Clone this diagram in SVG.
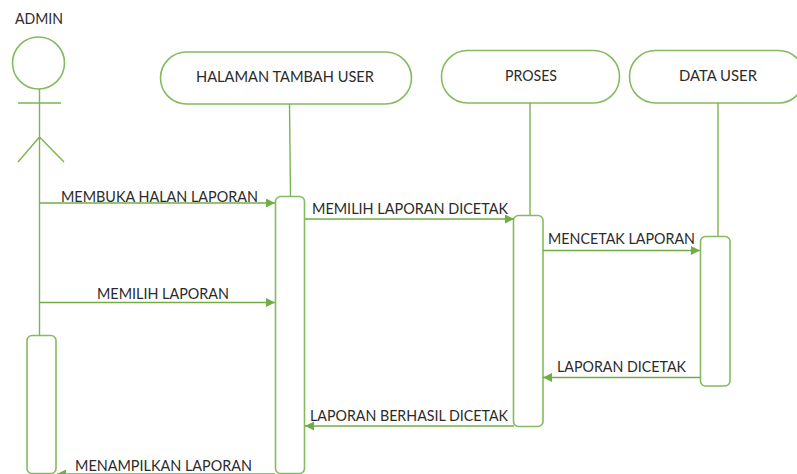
<svg xmlns="http://www.w3.org/2000/svg" width="797" height="474" viewBox="0 0 797 474">
<style>
.s{fill:#fff;stroke:#84bb60;stroke-width:1.6}
.l{fill:none;stroke:#7ab552;stroke-width:1.4}
.c{fill:none;stroke:#70ad47;stroke-width:1.4;marker-end:url(#a)}
text{font-family:"Lato","Liberation Sans",sans-serif;font-size:14.5px;fill:#2b2b2b}
</style>
<defs><marker id="a" markerUnits="userSpaceOnUse" markerWidth="10" markerHeight="10" refX="9" refY="4.5" orient="auto"><path d="M0 0L9 4.5L0 9Z" fill="#70ad47"/></marker></defs>
<rect width="797" height="474" fill="#fff"/>
<g id="admin"><circle class="s" cx="38.5" cy="63" r="26"/><path class="l" d="M39.5 89V335M18 103H61M39.5 137L18 162M39.5 137L64 162"/><text x="15" y="24" textLength="48" lengthAdjust="spacingAndGlyphs">ADMIN</text></g>
<g id="admin-activation"><rect class="s" x="27" y="335.5" width="29" height="138" rx="5"/></g>
<g id="halaman"><rect class="s" x="160.5" y="52" width="251" height="52" rx="26"/><text x="196" y="81.5" textLength="178" lengthAdjust="spacingAndGlyphs">HALAMAN TAMBAH USER</text><path class="l" d="M289.5 104L290.5 196"/><rect class="s" x="275.5" y="196.5" width="29" height="277" rx="5"/></g>
<g id="proses"><rect class="s" x="441.5" y="50.5" width="178" height="52.5" rx="26"/><text x="505" y="80.5" textLength="52" lengthAdjust="spacingAndGlyphs">PROSES</text><path class="l" d="M530 103V215"/><rect class="s" x="513.5" y="215.5" width="29.5" height="211" rx="5"/></g>
<g id="data-user"><rect class="s" x="629.5" y="50.5" width="175" height="52.5" rx="26"/><text x="679" y="80.5" textLength="78" lengthAdjust="spacingAndGlyphs">DATA USER</text><path class="l" d="M718 103V236"/><rect class="s" x="700.5" y="236.5" width="29.5" height="149.5" rx="5"/></g>
<g id="connectors">
<path class="c" d="M39.5 203H275"/>
<path class="c" d="M305 219H514"/>
<path class="c" d="M543 250.5H700"/>
<path class="c" d="M39.5 302.5H275"/>
<path class="c" d="M700 377.5H543"/>
<path class="c" d="M514 426H305"/>
<path class="c" d="M275 474H57"/>
</g>
<g id="labels">
<text x="61" y="201.5" textLength="197" lengthAdjust="spacingAndGlyphs">MEMBUKA HALAN LAPORAN</text>
<text x="312" y="214" textLength="196" lengthAdjust="spacingAndGlyphs">MEMILIH LAPORAN DICETAK</text>
<text x="548" y="244" textLength="147" lengthAdjust="spacingAndGlyphs">MENCETAK LAPORAN</text>
<text x="97" y="299" textLength="132" lengthAdjust="spacingAndGlyphs">MEMILIH LAPORAN</text>
<text x="557" y="371.5" textLength="129" lengthAdjust="spacingAndGlyphs">LAPORAN DICETAK</text>
<text x="310" y="420.5" textLength="198" lengthAdjust="spacingAndGlyphs">LAPORAN BERHASIL DICETAK</text>
<text x="75" y="471" textLength="177" lengthAdjust="spacingAndGlyphs">MENAMPILKAN LAPORAN</text>
</g>
</svg>
